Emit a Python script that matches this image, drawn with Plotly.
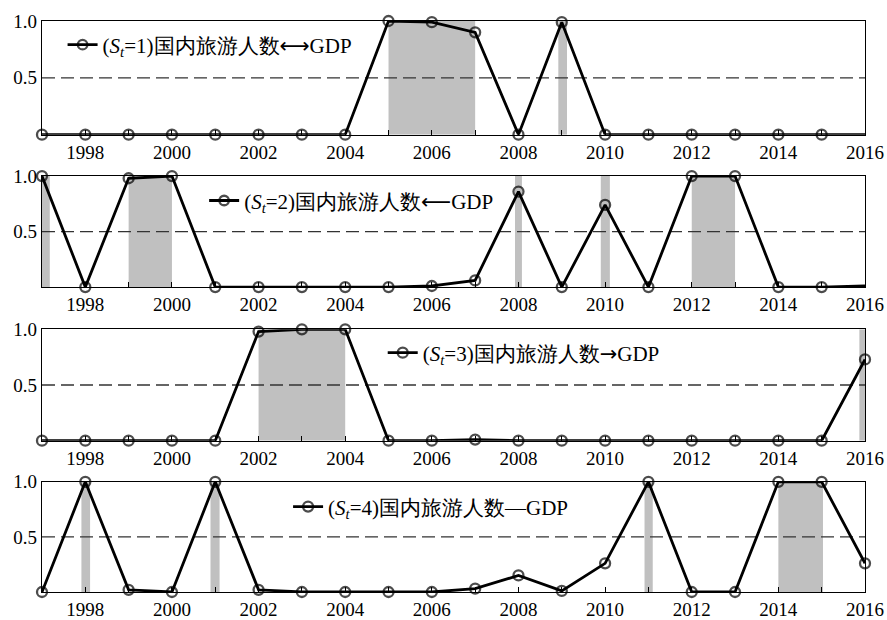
import plotly.graph_objects as go

years = list(range(1997, 2017))

p1 = [0, 0, 0, 0, 0, 0, 0, 0, 1.0, 0.99, 0.9, 0, 0.99, 0, 0, 0, 0, 0, 0, 0]
p2 = [1.0, 0, 0.98, 1.0, 0, 0, 0, 0, 0, 0.01, 0.06, 0.86, 0, 0.74, 0, 1.0, 1.0, 0, 0, 0.01]
p3 = [0, 0, 0, 0, 0, 0.98, 1.0, 1.0, 0, 0, 0.01, 0, 0, 0, 0, 0, 0, 0, 0, 0.73]
p4 = [0, 1.0, 0.02, 0, 1.0, 0.02, 0, 0, 0, 0, 0.03, 0.15, 0.01, 0.26, 1.0, 0, 0, 1.0, 1.0, 0.26]

shade1 = [(2005.0, 2007.0), (2008.92, 2009.12)]
shade2 = [(1997.0, 1997.18), (1999.0, 2000.0), (2007.92, 2008.08), (2009.9, 2010.11), (2012.0, 2013.0)]
shade3 = [(2002.0, 2004.0), (2015.87, 2016.0)]
shade4 = [(1997.91, 1998.11), (2000.89, 2001.1), (2010.91, 2011.1), (2014.0, 2015.03)]

ARW = "<span style='font-family:DejaVu Sans'>{}</span>"
labels = [
    "(<i>S<sub>t</sub></i>=1)国内旅游人数" + ARW.format("⟷") + "GDP",
    "(<i>S<sub>t</sub></i>=2)国内旅游人数" + ARW.format("⟵") + "GDP",
    "(<i>S<sub>t</sub></i>=3)国内旅游人数" + ARW.format("→") + "GDP",
    "(<i>S<sub>t</sub></i>=4)国内旅游人数—GDP",
]
series = [p1, p2, p3, p4]
shades = [shade1, shade2, shade3, shade4]
show_last_marker = [False, False, True, True]

tick_vals = list(range(1998, 2017, 2))
tick_text = [str(y) for y in tick_vals]
minor_vals = years

domains = [(0.801, 1.0), (0.534, 0.7285), (0.265, 0.460), (0.0, 0.193)]
legend_pos = [(0.025, 0.958), (0.197, 0.685), (0.414, 0.4186), (0.299, 0.149)]

FONT = "Liberation Serif, Times New Roman, serif"

fig = go.Figure()
shapes = []
layout = {}
for i in range(4):
    n = i + 1
    xa = "x" if n == 1 else f"x{n}"
    ya = "y" if n == 1 else f"y{n}"
    lg = "legend" if n == 1 else f"legend{n}"
    sizes = [10] * len(years)
    if not show_last_marker[i]:
        sizes[-1] = 0
    fig.add_trace(go.Scatter(
        x=years, y=series[i], mode="lines+markers",
        name=labels[i], xaxis=xa, yaxis=ya, legend=lg,
        line=dict(color="black", width=2.8),
        marker=dict(symbol="circle-open", size=sizes, color="black",
                    line=dict(width=2.3, color="black")),
        cliponaxis=False, hoverinfo="skip",
    ))
    for (a, b) in shades[i]:
        shapes.append(dict(type="rect", xref=xa, yref=ya, x0=a, x1=b, y0=0, y1=1,
                           fillcolor="#c0c0c0", line=dict(width=0), layer="below"))
    shapes.append(dict(type="line", xref=xa, yref=ya, x0=1997, x1=2016, y0=0.5, y1=0.5,
                       line=dict(color="#333333", width=1.3, dash="13px,6px"), layer="below"))
    layout[f"xaxis{'' if n == 1 else n}"] = dict(
        domain=[0, 1], anchor=ya, range=[1997, 2016], automargin=False,
        tickmode="array", tickvals=tick_vals, ticktext=tick_text,
        ticks="inside", ticklen=5, tickcolor="black", tickwidth=1,
        minor=dict(tickmode="array", tickvals=minor_vals, ticks="inside",
                   ticklen=5, tickcolor="black", tickwidth=1, showgrid=False),
        showline=True, linecolor="black", linewidth=1.2, mirror=True,
        showgrid=False, zeroline=False,
        tickfont=dict(family=FONT, size=19, color="black"),
    )
    layout[f"yaxis{'' if n == 1 else n}"] = dict(
        domain=list(domains[i]), anchor=xa, range=[0, 1], automargin=False,
        tickmode="array", tickvals=[0.5, 1.0], ticktext=["0.5", "1.0"],
        ticks="", showline=True, linecolor="black", linewidth=1.2, mirror=True,
        showgrid=False, zeroline=False,
        tickfont=dict(family=FONT, size=19, color="black"),
    )
    layout[lg] = dict(
        x=legend_pos[i][0], y=legend_pos[i][1], xref="paper", yref="paper",
        xanchor="left", yanchor="middle", bgcolor="rgba(0,0,0,0)",
        font=dict(family=FONT, size=21, color="black"),
        itemwidth=30,
    )

fig.update_layout(
    width=887, height=620,
    margin=dict(l=42, r=22, t=21, b=28, autoexpand=False),
    plot_bgcolor="white", paper_bgcolor="white",
    showlegend=True,
    font=dict(family=FONT, color="black"),
    shapes=shapes,
    **layout,
)

fig.write_html("out.html", config={"displayModeBar": False},
               post_script="document.body.style.margin='0';document.body.style.overflow='hidden';")
